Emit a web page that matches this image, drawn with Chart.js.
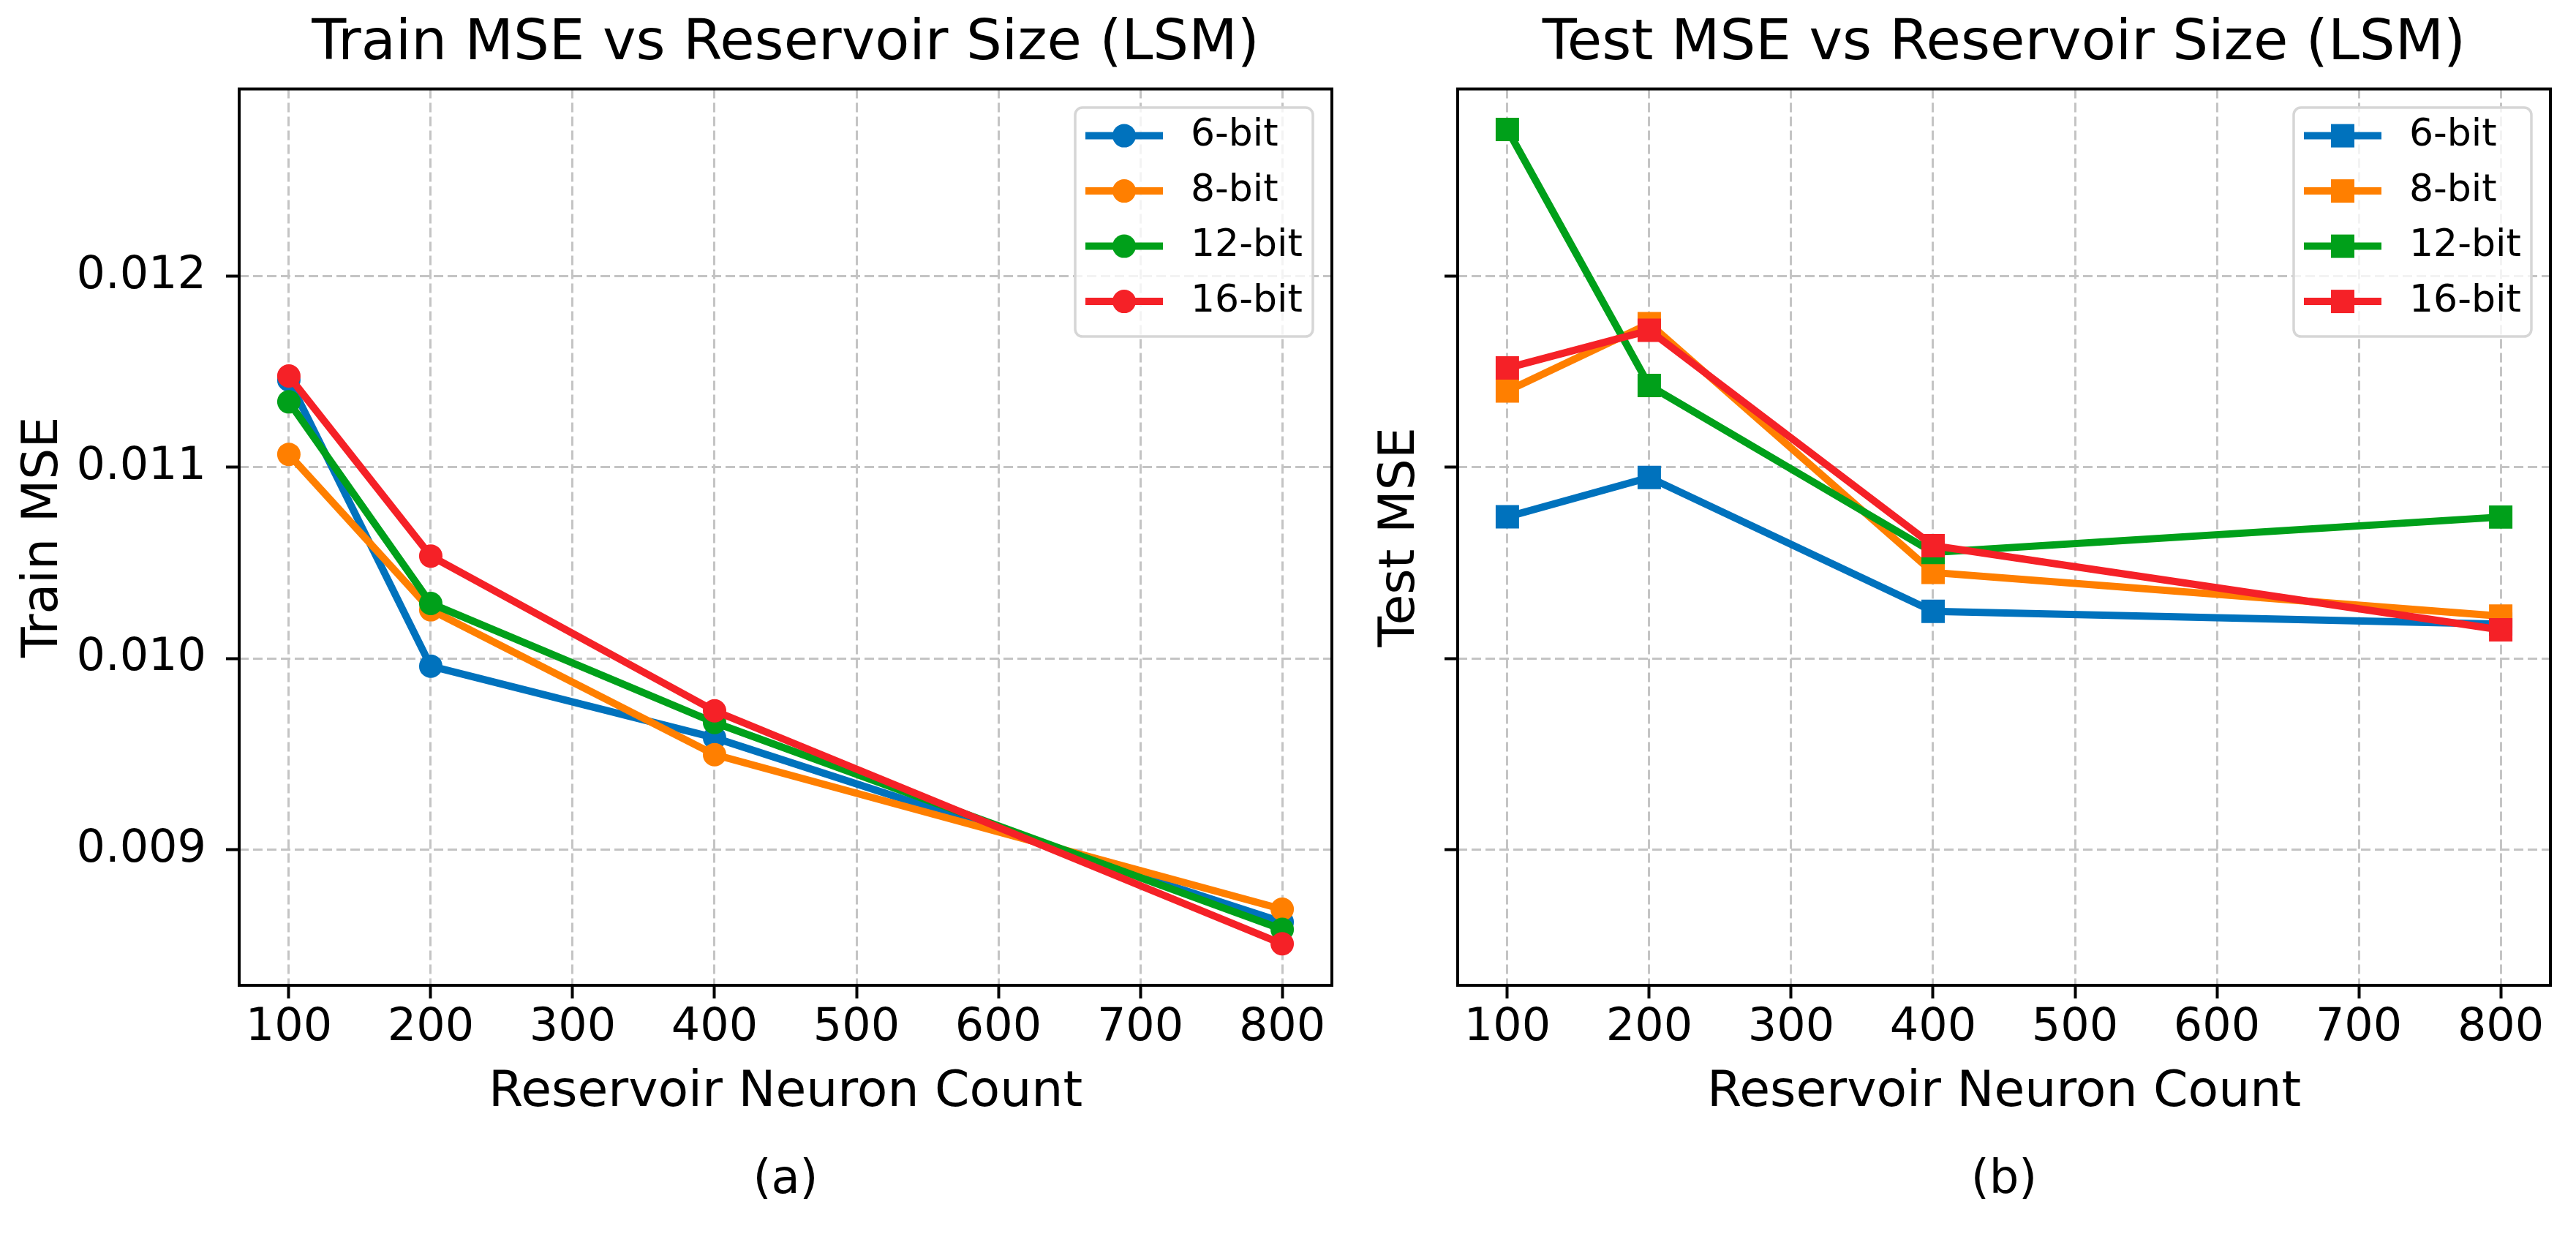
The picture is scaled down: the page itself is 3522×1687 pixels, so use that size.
<!DOCTYPE html>
<html>
<head>
<meta charset="utf-8">
<title>LSM MSE vs Reservoir Size</title>
<script src="https://cdn.jsdelivr.net/npm/chart.js@4.4.1/dist/chart.umd.min.js"></script>
<style>
  html, body { margin: 0; padding: 0; background: #fff; }
  body { width: 3522px; height: 1687px; position: relative; overflow: hidden; }
  .panel { position: absolute; top: 0; height: 1687px; }
  #panelA { left: 0; width: 1880px; }
  #panelB { left: 1870px; width: 1652px; }
</style>
</head>
<body>
<div class="panel" id="panelA"><canvas id="trainChart"></canvas></div>
<div class="panel" id="panelB"><canvas id="testChart"></canvas></div>
<script>
// reservoir sizes on the x axis
const neuronCounts = [100, 200, 400, 800];
const bitLabels = ['6-bit', '8-bit', '12-bit', '16-bit'];
const seriesColors = ['#0072bd', '#ff7f00', '#00a01a', '#f52127'];

// train MSE, one array per weight precision
const train6 = [0.011457, 0.009960, 0.009585, 0.008621];
const train8 = [0.011068, 0.010255, 0.009497, 0.008688];
const train12 = [0.011343, 0.010288, 0.009665, 0.008583];
const train16 = [0.011478, 0.010536, 0.009726, 0.008507];

// test MSE
const test6 = [0.010741, 0.010947, 0.010247, 0.010180];
const test8 = [0.011400, 0.011752, 0.010450, 0.010222];
const test12 = [0.012768, 0.011428, 0.010555, 0.010740];
const test16 = [0.011520, 0.011717, 0.010590, 0.010150];

// axes (y is shared by both panels)
const xTicks = [100, 200, 300, 400, 500, 600, 700, 800];
const yTicks = [0.009, 0.010, 0.011, 0.012];
const xRange = [65, 835];
const yRange = [0.00829, 0.01298];

Chart.defaults.font.family = '"DejaVu Sans", sans-serif';
Chart.defaults.color = '#000';

const gridColor = '#c4c4c4';

function roundedRect(ctx, x, y, w, h, r) {
    ctx.beginPath();
    ctx.moveTo(x + r, y);
    ctx.arcTo(x + w, y, x + w, y + h, r);
    ctx.arcTo(x + w, y + h, x, y + h, r);
    ctx.arcTo(x, y + h, x, y, r);
    ctx.arcTo(x, y, x + w, y, r);
    ctx.closePath();
}

// black box round the plot area
const frameBox = {
    id: 'frameBox',
    afterDatasetsDraw(chart) {
        const { ctx, chartArea: a } = chart;
        ctx.save();
        ctx.strokeStyle = '#000';
        ctx.lineWidth = 4;
        ctx.strokeRect(a.left, a.top, a.right - a.left, a.bottom - a.top);
        ctx.restore();
    }
};

// legend drawn inside the upper right corner, matplotlib style
const insetLegend = {
    id: 'insetLegend',
    afterDatasetsDraw(chart) {
        const { ctx, chartArea } = chart;
        const w = 325, h = 313;
        const left = chartArea.right - 26 - w;
        const top = chartArea.top + 25.5;
        ctx.save();
        roundedRect(ctx, left, top, w, h, 10);
        ctx.fillStyle = 'rgba(255,255,255,0.8)';
        ctx.fill();
        ctx.lineWidth = 3.5;
        ctx.strokeStyle = '#d6d6d6';
        ctx.stroke();

        chart.data.datasets.forEach((ds, i) => {
            const y = top + 38.5 + i * 75.5;
            ctx.strokeStyle = ds.borderColor;
            ctx.lineWidth = ds.borderWidth;
            ctx.beginPath();
            ctx.moveTo(left + 14, y);
            ctx.lineTo(left + 120, y);
            ctx.stroke();

            const cx = left + 67;
            ctx.fillStyle = ds.borderColor;
            if (ds.pointStyle === 'rect') {
                const s = ds.pointRadius * Math.SQRT2;
                ctx.fillRect(cx - s / 2, y - s / 2, s, s);
            } else {
                ctx.beginPath();
                ctx.arc(cx, y, ds.pointRadius, 0, Math.PI * 2);
                ctx.fill();
            }

            ctx.fillStyle = '#000';
            ctx.font = '52px "DejaVu Sans"';
            ctx.textBaseline = 'middle';
            ctx.textAlign = 'left';
            ctx.fillText(ds.label, left + 158, y);
        });
        ctx.restore();
    }
};

function makeDatasets(seriesList, pointStyle, pointRadius) {
    return seriesList.map((values, i) => ({
        label: bitLabels[i],
        data: neuronCounts.map((n, j) => ({ x: n, y: values[j] })),
        borderColor: seriesColors[i],
        backgroundColor: seriesColors[i],
        pointBackgroundColor: seriesColors[i],
        pointBorderWidth: 0,
        pointStyle: pointStyle,
        pointRadius: pointRadius,
        pointHoverRadius: pointRadius,
        borderWidth: 10,
        tension: 0,
        order: seriesList.length - i   // later series on top
    }));
}

function buildPanel(canvasId, cfg) {
    const ctx = document.getElementById(canvasId).getContext('2d');
    return new Chart(ctx, {
        type: 'line',
        data: { datasets: makeDatasets(cfg.series, cfg.pointStyle, cfg.pointRadius) },
        options: {
            responsive: true,
            maintainAspectRatio: false,
            animation: false,
            events: [],
            layout: { padding: { left: 0, right: cfg.rightPad, top: 0, bottom: 0 } },
            plugins: {
                legend: { display: false },
                tooltip: { enabled: false },
                title: {
                    display: true,
                    text: cfg.title,
                    fullSize: false,
                    color: '#000',
                    font: { size: 77, weight: 'normal' },
                    padding: { top: 14.8, bottom: 14.4 }
                },
                subtitle: {
                    display: true,
                    text: cfg.caption,
                    position: 'bottom',
                    fullSize: false,
                    color: '#000',
                    font: { size: 64, weight: 'normal' },
                    padding: { top: 0, bottom: 34.6 }
                }
            },
            scales: {
                x: {
                    type: 'linear',
                    min: xRange[0],
                    max: xRange[1],
                    afterBuildTicks: s => { s.ticks = xTicks.map(v => ({ value: v })); },
                    afterFit: s => { s.height = 228.6; },
                    grid: {
                        color: gridColor, lineWidth: 3, borderDash: [13, 6],
                        tickColor: '#000', tickWidth: 4, tickLength: 18, tickBorderDash: []
                    },
                    border: { display: false, dash: [13, 6] },
                    ticks: { color: '#000', font: { size: 62 }, padding: 4, maxRotation: 0, autoSkip: false },
                    title: {
                        display: true, text: 'Reservoir Neuron Count', color: '#000',
                        font: { size: 68 }, padding: { top: 0, bottom: 40.8 }
                    }
                },
                y: {
                    min: yRange[0],
                    max: yRange[1],
                    afterBuildTicks: s => { s.ticks = yTicks.map(v => ({ value: v })); },
                    afterFit: s => { s.width = cfg.yAxisWidth; },
                    grid: {
                        color: gridColor, lineWidth: 3, borderDash: [13, 6],
                        tickColor: '#000', tickWidth: 4, tickLength: 18, tickBorderDash: []
                    },
                    border: { display: false, dash: [13, 6] },
                    ticks: {
                        color: '#000', font: { size: 62 }, padding: 27,
                        callback: v => cfg.showYLabels ? v.toFixed(3) : ''
                    },
                    title: {
                        display: true, text: cfg.yTitle, color: '#000',
                        font: { size: 68 }, padding: { top: cfg.yTitlePad, bottom: 0 }
                    }
                }
            }
        },
        plugins: [frameBox, insetLegend]
    });
}

buildPanel('trainChart', {
    title: 'Train MSE vs Reservoir Size (LSM)',
    caption: '(a)',
    yTitle: 'Train MSE',
    series: [train6, train8, train12, train16],
    pointStyle: 'circle',
    pointRadius: 16,
    yAxisWidth: 327,
    yTitlePad: 20,
    showYLabels: true,
    rightPad: 59
});

buildPanel('testChart', {
    title: 'Test MSE vs Reservoir Size (LSM)',
    caption: '(b)',
    yTitle: 'Test MSE',
    series: [test6, test8, test12, test16],
    pointStyle: 'rect',
    pointRadius: 22.6,
    yAxisWidth: 123,
    yTitlePad: 5,
    showYLabels: false,
    rightPad: 35
});
</script>
</body>
</html>
